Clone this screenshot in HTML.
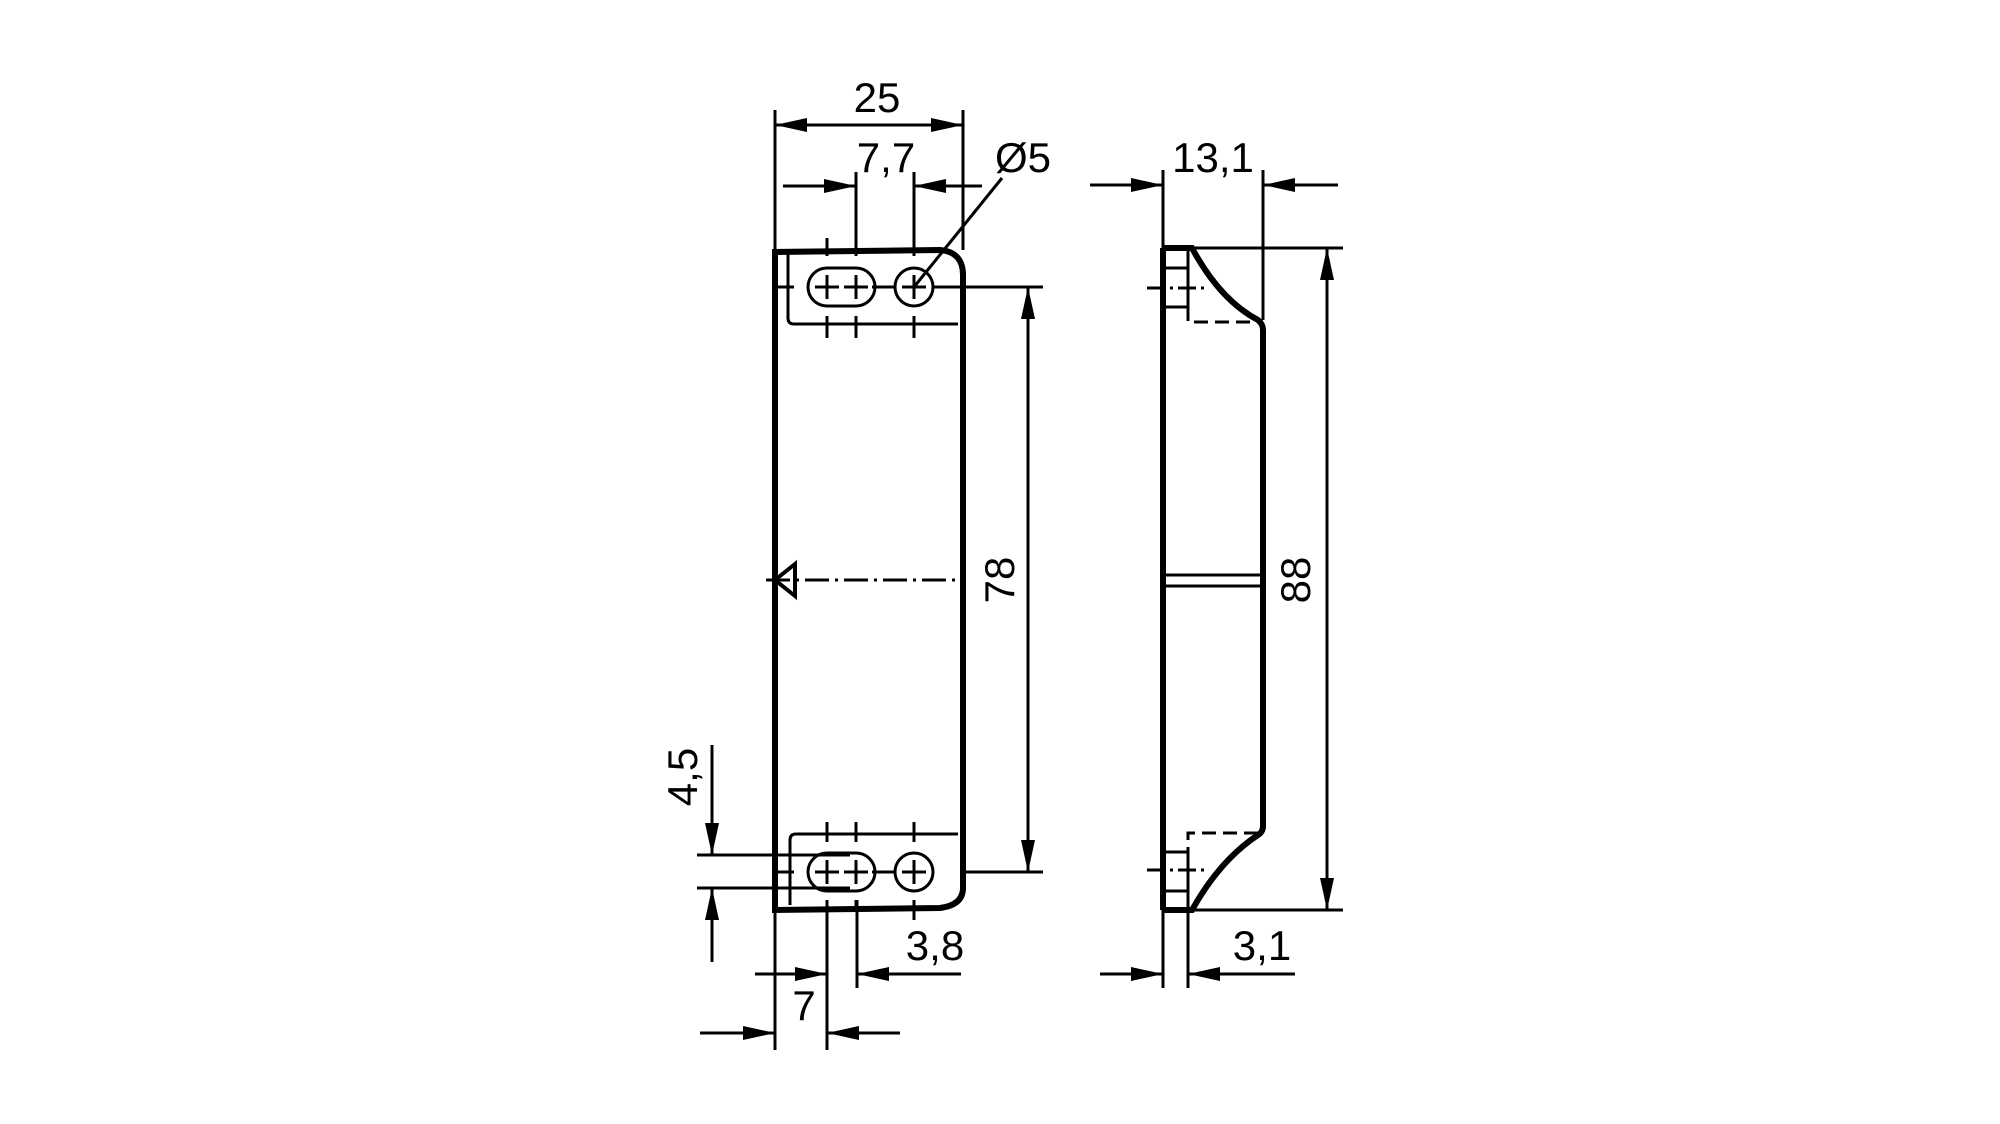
<!DOCTYPE html>
<html><head><meta charset="utf-8"><style>
html,body{margin:0;padding:0;background:#fff;}
svg{display:block;}
text{font-family:"Liberation Sans",sans-serif;font-size:42px;fill:#000;}
</style></head><body>
<svg width="2000" height="1124" viewBox="0 0 2000 1124" xmlns="http://www.w3.org/2000/svg">
<defs>
<marker id="a" viewBox="0 0 32 14" refX="32" refY="7" markerWidth="32" markerHeight="14" markerUnits="userSpaceOnUse" orient="auto"><path d="M0,0 L32,7 L0,14 z" fill="#000"/></marker>
</defs>
<g stroke="#000" fill="none" stroke-width="3">
<!-- FRONT VIEW outline -->
<path d="M775,910 L775,252 L940,250 Q963,252 963,275 L963,888 Q963,905 940,908 Z" stroke-width="6"/>
<!-- pockets -->
<path d="M788,252 L788,318 Q788,324 794,324 L958,324"/>
<path d="M958,834 L796,834 Q790,834 790,840 L790,905"/>
<!-- top holes -->
<path d="M827,268 L856,268 A19,19 0 0 1 856,306 L827,306 A19,19 0 0 1 827,268 Z"/>
<circle cx="914" cy="287" r="19"/>
<!-- bottom holes -->
<path d="M827,853 L856,853 A19,19 0 0 1 856,891 L827,891 A19,19 0 0 1 827,853 Z"/>
<circle cx="914" cy="872" r="19"/>
<!-- center crosses -->
<g stroke-width="3">
<path d="M815,287h24M844,287h24M902,287h24M815,872h24M844,872h24M902,872h24"/>
<path d="M827,275v24M856,275v24M914,275v24M827,860v24M856,860v24M914,860v24"/>
<path d="M776,287h18M872,287h22M933,287h30M776,872h18M872,872h22"/>
<path d="M827,238v18M856,238v18M914,238v18M827,316v22M856,316v22M914,316v22"/>
<path d="M827,822v20M856,822v20M914,822v20M827,900v12M856,900v12M914,900v20"/>
</g>
<!-- center mark -->
<path d="M775,580 L795,564 L795,596 Z" stroke-width="4"/>
<path d="M766,580 H963" stroke-dasharray="24,6,3,6"/>
<!-- 25 -->
<path d="M775,110 V250 M963,110 V250"/>
<line x1="870" y1="125" x2="775" y2="125" marker-end="url(#a)"/>
<line x1="870" y1="125" x2="963" y2="125" marker-end="url(#a)"/>
<!-- 7,7 -->
<path d="M856,172 V240 M914,172 V240"/>
<line x1="783" y1="186" x2="856" y2="186" marker-end="url(#a)"/>
<line x1="982" y1="186" x2="914" y2="186" marker-end="url(#a)"/>
<!-- ø5 leader -->
<path d="M1002,178 L914,287"/>
<!-- 78 -->
<path d="M963,287 H1043 M963,872 H1043"/>
<line x1="1028" y1="580" x2="1028" y2="287" marker-end="url(#a)"/>
<line x1="1028" y1="580" x2="1028" y2="872" marker-end="url(#a)"/>
<!-- 4,5 -->
<path d="M697,855 H850 M697,888 H850"/>
<line x1="712" y1="745" x2="712" y2="855" marker-end="url(#a)"/>
<line x1="712" y1="962" x2="712" y2="888" marker-end="url(#a)"/>
<!-- 3,8 -->
<path d="M827,900 V1050 M857,900 V988 M775,910 V1050"/>
<line x1="755" y1="974" x2="827" y2="974" marker-end="url(#a)"/>
<line x1="961" y1="974" x2="857" y2="974" marker-end="url(#a)"/>
<!-- 7 -->
<line x1="700" y1="1033" x2="775" y2="1033" marker-end="url(#a)"/>
<line x1="900" y1="1033" x2="827" y2="1033" marker-end="url(#a)"/>

<!-- SIDE VIEW -->
<path d="M1163,248 L1163,910" stroke-width="6"/>
<path d="M1163,248 L1192,248 Q1220,300 1258,320 Q1263,324 1263,330 L1263,826 Q1263,832 1258,835 Q1220,860 1192,910 L1163,910" stroke-width="6"/>
<path d="M1188,248 V268 M1163,268 H1188 M1163,307 H1188 M1188,268 V307"/>
<path d="M1188,307 V322 H1258" stroke-dasharray="14,7"/>
<path d="M1147,288 H1207" stroke-dasharray="18,5,3,5"/>
<path d="M1188,852 V891 M1163,852 H1188 M1163,891 H1188 M1188,891 V910"/>
<path d="M1258,833 H1188 V852" stroke-dasharray="14,7"/>
<path d="M1147,870 H1207" stroke-dasharray="18,5,3,5"/>
<path d="M1163,575 H1263 M1163,586 H1263"/>
<!-- 13,1 -->
<path d="M1163,170 V248 M1263,170 V320"/>
<line x1="1090" y1="185" x2="1163" y2="185" marker-end="url(#a)"/>
<line x1="1338" y1="185" x2="1263" y2="185" marker-end="url(#a)"/>
<!-- 88 -->
<path d="M1163,248 H1343 M1192,910 H1343"/>
<line x1="1327" y1="580" x2="1327" y2="248" marker-end="url(#a)"/>
<line x1="1327" y1="580" x2="1327" y2="910" marker-end="url(#a)"/>
<!-- 3,1 -->
<path d="M1163,910 V988 M1188,910 V988"/>
<line x1="1100" y1="974" x2="1163" y2="974" marker-end="url(#a)"/>
<line x1="1295" y1="974" x2="1188" y2="974" marker-end="url(#a)"/>
</g>
<text x="877" y="112" text-anchor="middle">25</text>
<text x="886" y="172" text-anchor="middle">7,7</text>
<text x="995" y="172">Ø5</text>
<text x="1213" y="172" text-anchor="middle">13,1</text>
<text transform="translate(1014,580) rotate(-90)" text-anchor="middle">78</text>
<text transform="translate(1310,580) rotate(-90)" text-anchor="middle">88</text>
<text transform="translate(697,777) rotate(-90)" text-anchor="middle">4,5</text>
<text x="935" y="960" text-anchor="middle">3,8</text>
<text x="1262" y="960" text-anchor="middle">3,1</text>
<text x="804" y="1020" text-anchor="middle">7</text>
</svg>
</body></html>
